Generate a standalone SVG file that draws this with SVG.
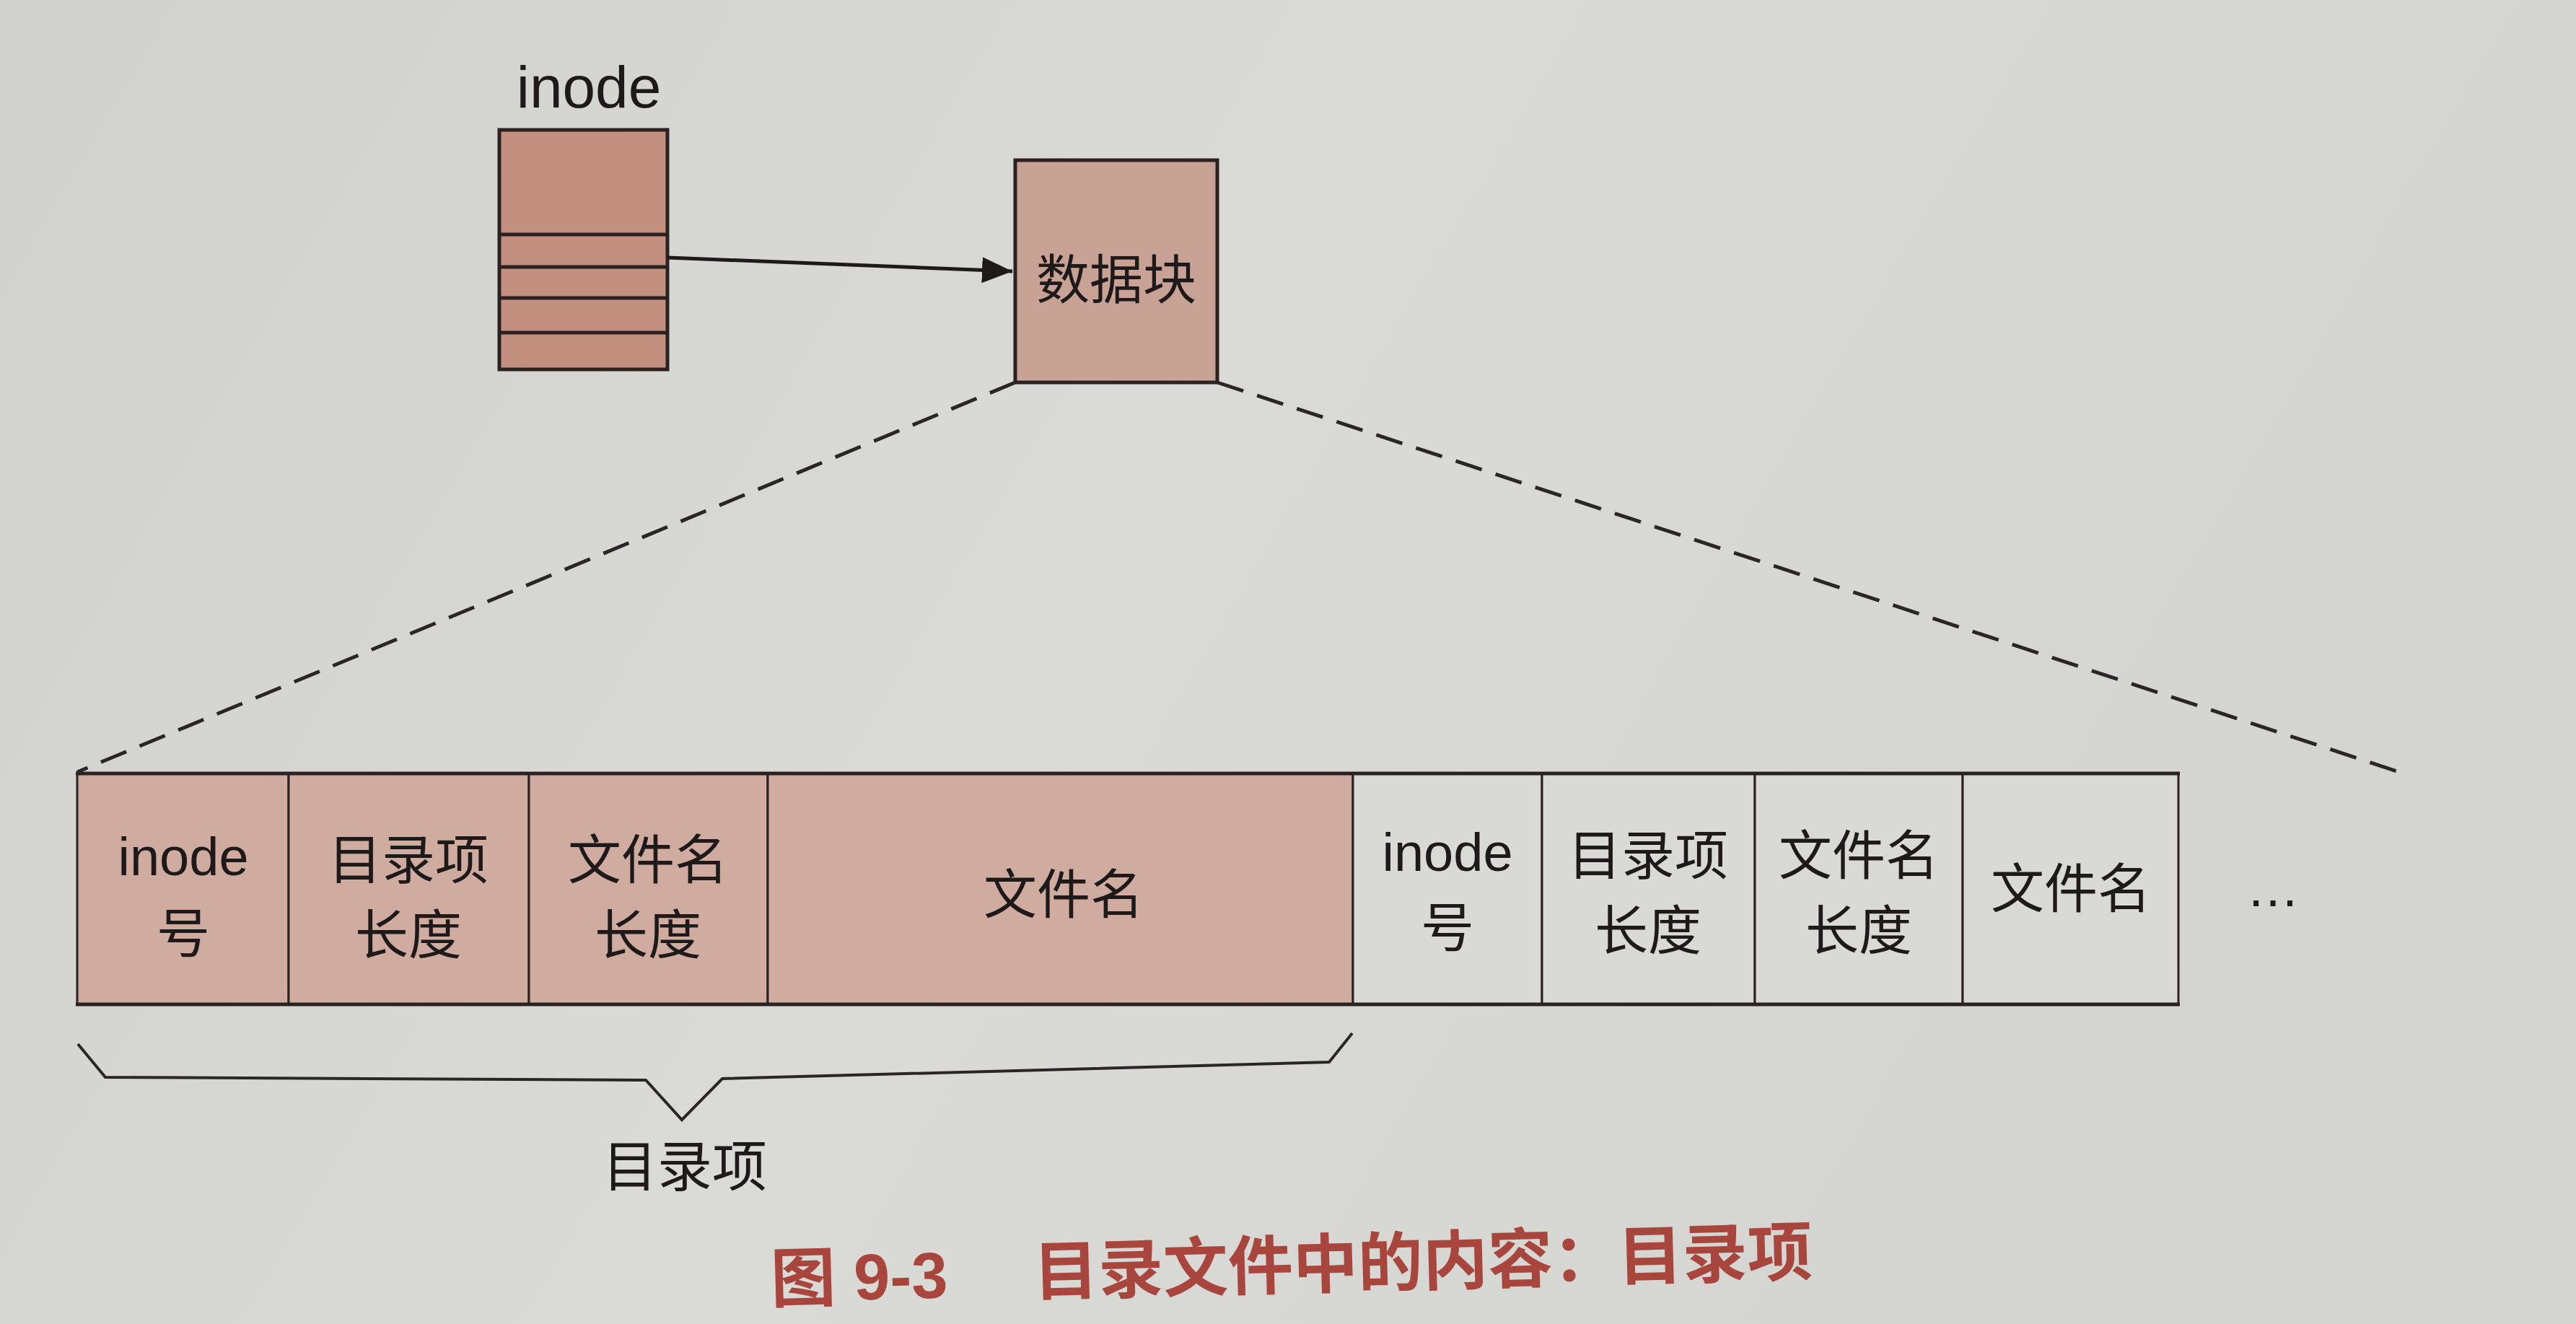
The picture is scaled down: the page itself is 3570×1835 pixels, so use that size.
<svg xmlns="http://www.w3.org/2000/svg" width="3570" height="1835" viewBox="0 0 3570 1835">
  <defs>
    <linearGradient id="bg" x1="0" y1="0" x2="1" y2="0.3">
      <stop offset="0" stop-color="#d0d0cc"/>
      <stop offset="0.5" stop-color="#dadad6"/>
      <stop offset="1" stop-color="#d4d4d0"/>
    </linearGradient>
    <marker id="arrow" markerUnits="userSpaceOnUse" markerWidth="44" markerHeight="36" refX="42" refY="18" orient="auto">
      <path d="M0,0 L42,18 L0,36 Z" fill="#1e1a1a"/>
    </marker>
  </defs>
  <style>
    .txt { font-family: "Liberation Sans", "Noto Sans CJK SC", sans-serif; fill: #1e1a1a; text-anchor: middle; }
    .cell { font-size: 74px; }
    .box { stroke: #2a2222; stroke-width: 5; }
    .div { stroke: #2a2222; stroke-width: 3; }
    .pink { fill: #cfac9f; }
    .plain { fill: #d9d9d5; }
    .dash { stroke: #2a2626; stroke-width: 5; stroke-dasharray: 38 20; fill: none; }
    .caption { font-family: "Liberation Sans", "Noto Sans CJK SC", sans-serif; font-weight: bold; font-size: 90px; fill: #a8463e; }
  </style>

  <rect x="0" y="0" width="3570" height="1835" fill="url(#bg)"/>

  <g id="inode">
    <text class="txt" x="816" y="149" font-size="82">inode</text>
    <rect x="692" y="180" width="233" height="332" fill="#c38f7e" class="box"/>
    <line x1="692" y1="325" x2="925" y2="325" class="box"/>
    <line x1="692" y1="370" x2="925" y2="370" class="box"/>
    <line x1="692" y1="413" x2="925" y2="413" class="box"/>
    <line x1="692" y1="461" x2="925" y2="461" class="box"/>
  </g>

  <g id="datablock">
    <rect x="1407" y="222" width="280" height="308" fill="#c9a296" class="box"/>
    <text class="txt" x="1547" y="414" font-size="74">数据块</text>
  </g>

  <g id="entry1">
    <rect x="107" y="1072" width="293" height="320" class="pink div"/>
    <text class="txt cell" x="254" y="1213">inode</text>
    <text class="txt cell" x="254" y="1320">号</text>
    <rect x="400" y="1072" width="333" height="320" class="pink div"/>
    <text class="txt cell" x="566" y="1218">目录项</text>
    <text class="txt cell" x="566" y="1322">长度</text>
    <rect x="733" y="1072" width="331" height="320" class="pink div"/>
    <text class="txt cell" x="898" y="1218">文件名</text>
    <text class="txt cell" x="898" y="1322">长度</text>
    <rect x="1064" y="1072" width="811" height="320" class="pink div"/>
    <text class="txt cell" x="1474" y="1266">文件名</text>
  </g>

  <g id="entry2">
    <rect x="1875" y="1072" width="262" height="320" class="plain div"/>
    <text class="txt cell" x="2006" y="1207">inode</text>
    <text class="txt cell" x="2006" y="1312">号</text>
    <rect x="2137" y="1072" width="295" height="320" class="plain div"/>
    <text class="txt cell" x="2284" y="1212">目录项</text>
    <text class="txt cell" x="2284" y="1316">长度</text>
    <rect x="2432" y="1072" width="288" height="320" class="plain div"/>
    <text class="txt cell" x="2576" y="1212">文件名</text>
    <text class="txt cell" x="2576" y="1316">长度</text>
    <rect x="2720" y="1072" width="299" height="320" class="plain div"/>
    <text class="txt cell" x="2870" y="1258">文件名</text>
  </g>

  <g id="strip-border">
    <line x1="105" y1="1072" x2="3021" y2="1072" class="box"/>
    <line x1="105" y1="1392" x2="3021" y2="1392" class="box"/>
  </g>

  <g id="ellipsis">
    <text class="txt cell" x="3150" y="1256">…</text>
  </g>

  <g id="connectors">
    <line x1="925" y1="357" x2="1403" y2="376" stroke="#1e1a1a" stroke-width="5" marker-end="url(#arrow)"/>
    <line x1="1407" y1="530" x2="107" y2="1070" class="dash"/>
    <line x1="1687" y1="530" x2="3325" y2="1070" class="dash"/>
  </g>

  <g id="brace-label">
    <path d="M108,1447 L146,1493 L895,1497 L945,1552 L1001,1495 L1842,1472 L1874,1432" fill="none" stroke="#2a2626" stroke-width="4" stroke-linejoin="miter"/>
    <text class="txt" x="949" y="1644" font-size="76">目录项</text>
  </g>

  <g id="caption">
    <text class="caption" transform="rotate(-1.5 1780 1755)" y="1786"><tspan x="1068">图</tspan><tspan x="1183">9-3</tspan><tspan x="1432">目录文件中的内容：目录项</tspan></text>
  </g>
</svg>
